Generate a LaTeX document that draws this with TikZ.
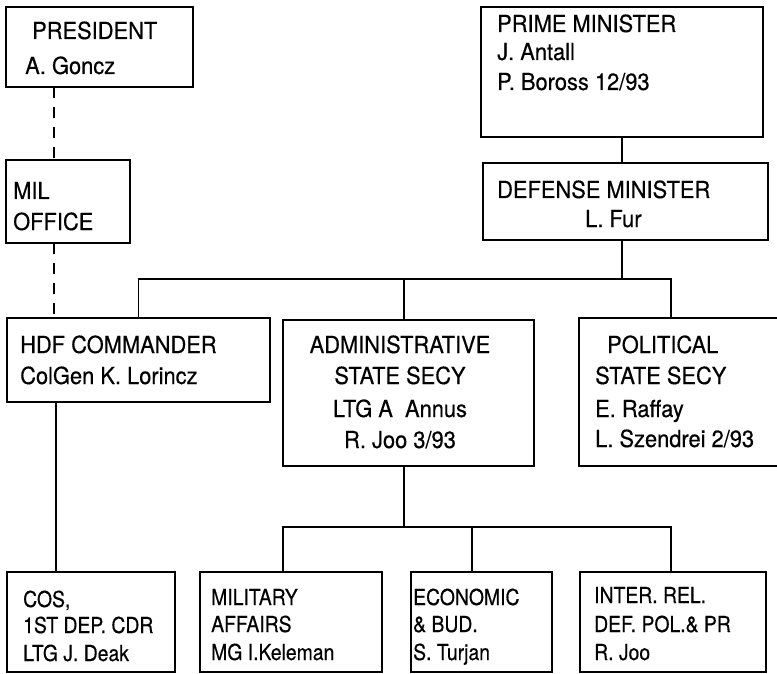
\documentclass[tikz,border=0pt]{standalone}
\usepackage{fontspec}
\setmainfont{TeX Gyre Heros}[FakeStretch=0.93, FakeBold=0.4]
\newfontfamily\botfont{TeX Gyre Heros}[FakeStretch=0.88, FakeBold=0.4]
\begin{document}
\begin{tikzpicture}[x=1pt,y=-1pt,
  box/.style={draw, line width=1.9pt, rectangle, inner sep=0pt, outer sep=0pt, anchor=north west},
  conn/.style={line width=1.9pt},
  dashconn/.style={conn, dash pattern=on 11pt off 9pt},
  lbl/.style={inner sep=0pt, anchor=base west, font=\fontsize{23.5}{27}\selectfont},
  lblc/.style={lbl, anchor=base},
  slbl/.style={lbl, font=\botfont\fontsize{22}{26}\selectfont}]
\useasboundingbox (0,0) rectangle (777,674);
% boxes
\node[box, minimum width=187pt, minimum height=80pt] (pres) at (6,7) {};
\node[box, minimum width=124pt, minimum height=83pt] (mil) at (6,160) {};
\node[box, minimum width=282pt, minimum height=130pt] (pm) at (481,7) {};
\node[box, minimum width=285pt, minimum height=77pt] (dm) at (483,163) {};
\node[box, minimum width=263pt, minimum height=84pt] (hdf) at (7,318) {};
\node[box, minimum width=251pt, minimum height=146pt] (adm) at (283,320) {};
\node[box, minimum width=220pt, minimum height=148pt] (pol) at (579,318) {};
\node[box, minimum width=168pt, minimum height=100pt] (cos) at (7,572) {};
\node[box, minimum width=182pt, minimum height=100pt] (maff) at (200,572) {};
\node[box, minimum width=141pt, minimum height=100pt] (econ) at (411,572) {};
\node[box, minimum width=186pt, minimum height=100pt] (intr) at (580,572) {};
% helper coordinates
\coordinate (dx) at (54,0);
\coordinate (busR) at (671,279);
\coordinate (ax) at (404,0);
\coordinate (bus2R) at (671,527);
\coordinate (mx) at (283,0);
\coordinate (ex) at (472,0);
\coordinate (cx) at (56,0);
% connectors
\draw[dashconn] (pres.south -| dx) -- (mil.north -| dx);
\draw[dashconn] (mil.south -| dx) -- (hdf.north -| dx);
\draw[conn] (pm.south) -- (dm.north -| pm.south);
\draw[conn] (dm.south -| pm.south) -- (busR -| pm.south);
\draw[conn] (hdf.north) |- (busR) -- (busR |- pol.north);
\draw[conn] (busR -| ax) -- (adm.north -| ax);
\draw[conn] (hdf.south -| cx) -- (cos.north -| cx);
\draw[conn] (adm.south -| ax) -- (bus2R -| ax);
\draw[conn] (maff.north -| mx) |- (bus2R) -- (bus2R |- intr.north);
\draw[conn] (bus2R -| ex) -- (econ.north -| ex);
% texts
\node[lbl] (t1) at (32,39) {PRESIDENT};
\node[lbl] (t2) at (25,74) {A. Goncz};
\node[lbl] (t3) at (13,199) {MIL};
\node[lbl] (t4) at (13,230) {OFFICE};
\node[lbl] (t5) at (497,32) {PRIME MINISTER};
\node[lbl] (t6) at (497,60) {J. Antall};
\node[lbl] (t7) at (497,90) {P. Boross 12/93};
\node[lbl] (t8) at (497,198) {DEFENSE MINISTER};
\node[lbl] (t9) at (585,227) {L. Fur};
\node[lbl] (t10) at (20,353) {HDF COMMANDER};
\node[lbl] (t11) at (20,384) {ColGen K. Lorincz};
\node[lblc] (t12) at (400,353) {ADMINISTRATIVE};
\node[lblc] (t13) at (400,384) {STATE SECY};
\node[lblc] (t14) at (400,417) {LTG A\ \ Annus};
\node[lblc] (t15) at (400,448) {R. Joo 3/93};
\node[lbl] (t16) at (607,353) {POLITICAL};
\node[lbl] (t17) at (595,384) {STATE SECY};
\node[lbl] (t18) at (595,417) {E. Raffay};
\node[lbl] (t19) at (595,447) {L. Szendrei 2/93};
\node[slbl] (t20) at (23,607) {COS,};
\node[slbl] (t21) at (23,633) {1ST DEP. CDR};
\node[slbl] (t22) at (23,661) {LTG J. Deak};
\node[slbl] (t23) at (211,605) {MILITARY};
\node[slbl] (t24) at (211,632) {AFFAIRS};
\node[slbl] (t25) at (211,660) {MG I.Keleman};
\node[slbl] (t26) at (413,605) {ECONOMIC};
\node[slbl] (t27) at (413,632) {\&\ BUD.};
\node[slbl] (t28) at (413,660) {S. Turjan};
\node[slbl] (t29) at (594,603) {INTER. REL.};
\node[slbl] (t30) at (594,632) {DEF. POL.\&\ PR};
\node[slbl] (t31) at (594,660) {R. Joo};
\end{tikzpicture}
\end{document}
